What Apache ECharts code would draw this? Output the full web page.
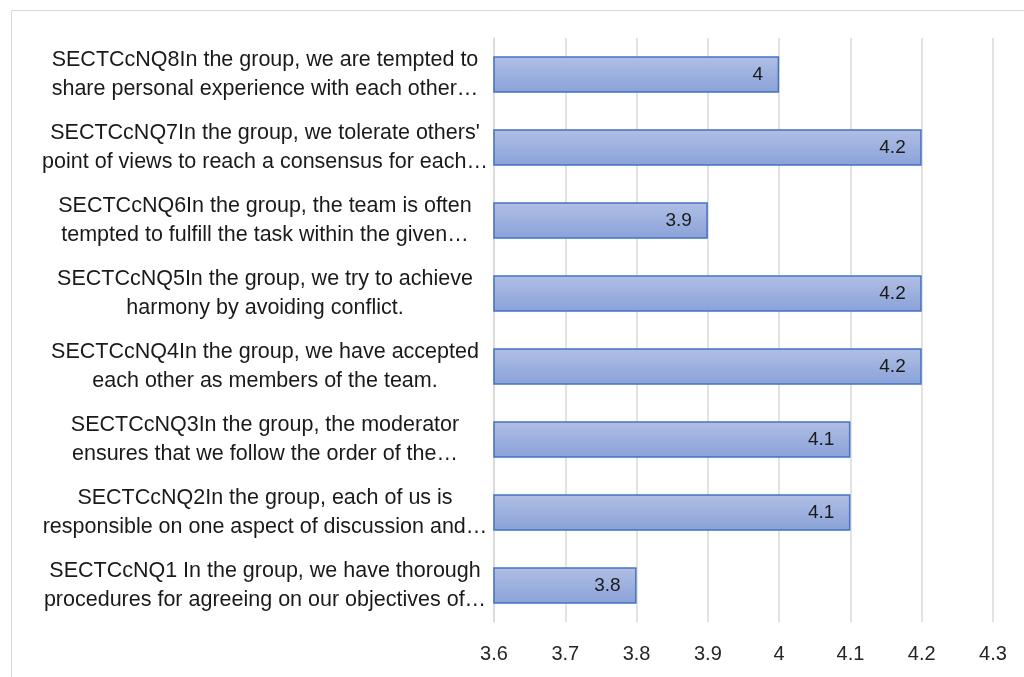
<!DOCTYPE html>
<html>
<head>
<meta charset="utf-8">
<script src="https://cdn.jsdelivr.net/npm/echarts@6/dist/echarts.min.js"></script>
<style>
html,body{margin:0;padding:0;background:#fff;}
#chart{width:1024px;height:677px;}
</style>
</head>
<body>
<div id="chart"></div>
<script>
const categories = [
  "SECTCcNQ1 In the group, we have thorough\nprocedures for agreeing on our objectives of…",
  "SECTCcNQ2In the group, each of us is\nresponsible on one aspect of discussion and…",
  "SECTCcNQ3In the group, the moderator\nensures that we follow the order of the…",
  "SECTCcNQ4In the group, we have accepted\neach other as members of the team.",
  "SECTCcNQ5In the group, we try to achieve\nharmony by avoiding conflict.",
  "SECTCcNQ6In the group, the team is often\ntempted to fulfill the task within the given…",
  "SECTCcNQ7In the group, we tolerate others'\npoint of views to reach a consensus for each…",
  "SECTCcNQ8In the group, we are tempted to\nshare personal experience with each other…"
];
const values = [3.8, 4.1, 4.1, 4.2, 4.2, 3.9, 4.2, 4.0];
const axisMin = 3.6, axisMax = 4.3, axisStep = 0.1;

const chart = echarts.init(document.getElementById('chart'), null, {renderer:'canvas'});
const FONT = "'Liberation Sans', Arial, sans-serif";
chart.setOption({
  animation: false,
  backgroundColor: '#fff',
  graphic: [{
    type: 'rect', left: 9, top: 8,
    shape: {width: 1100, height: 800},
    style: {fill: 'none', stroke: '#d9d9d9', lineWidth: 1}
  }],
  grid: {left: 494, right: 31, top: 38, bottom: 55, containLabel: false},
  xAxis: {
    type: 'value', min: axisMin, max: axisMax, interval: axisStep,
    axisLine: {show: false}, axisTick: {show: false},
    splitLine: {show: true, lineStyle: {color: '#d9d9d9', width: 1.5}},
    axisLabel: {
      color: '#262626', fontFamily: FONT, fontSize: 20, margin: 22,
      formatter: v => String(parseFloat(v.toFixed(1)))
    }
  },
  yAxis: {
    type: 'category', data: categories,
    axisLine: {show: true, lineStyle: {color: '#d9d9d9', width: 1.5}},
    axisTick: {show: false},
    axisLabel: {
      color: '#1a1a1a', fontFamily: FONT, fontSize: 21.5, lineHeight: 29,
      align: 'center', margin: 229, interval: 0
    }
  },
  series: [{
    type: 'bar', data: values, barCategoryGap: '50%',
    itemStyle: {
      color: new echarts.graphic.LinearGradient(0, 0, 0, 1, [
        {offset: 0, color: '#b0bfe4'},
        {offset: 1, color: '#8aa2d9'}
      ]),
      borderColor: '#4472c4', borderWidth: 1.5
    },
    label: {
      show: true, position: 'insideRight', distance: 16,
      color: '#1a1a1a', fontFamily: FONT, fontSize: 19,
      formatter: p => String(p.value)
    }
  }]
});
</script>
</body>
</html>
